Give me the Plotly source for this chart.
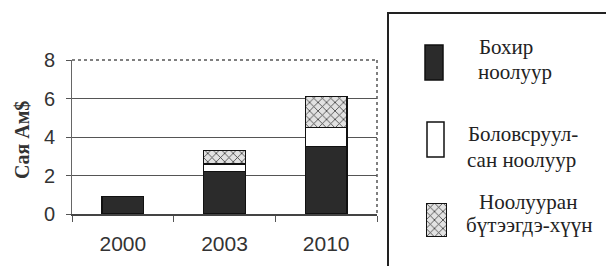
import plotly.graph_objects as go

# ---- data ----
categories = ["2000", "2003", "2010"]
raw_cashmere = [0.9, 2.2, 3.5]          # Бохир ноолуур
processed_cashmere = [0.0, 0.4, 1.0]    # Боловсруулсан ноолуур
cashmere_products = [0.0, 0.7, 1.6]     # Ноолууран бүтээгдэхүүн
series_names = ["Бохир ноолуур", "Боловсруулсан ноолуур", "Ноолууран бүтээгдэхүүн"]
legend_lines = [["Бохир", "ноолуур"], ["Боловсруул-", "сан ноолуур"], ["Ноолууран", "бүтээгдэ-хүүн"]]
y_ticks = [0, 2, 4, 6, 8]
y_title = "Сая Ам$"

W, H = 606, 266
PX0, PX1, PY0, PY1 = 72, 377, 60, 214  # plot area in pixels


def px(x):
    return x / W


def py(y):
    return 1 - y / H


DARK = "#2b2b2b"
LINE = "#111111"
pattern = dict(shape="x", fgcolor="#3a3a3a", bgcolor="#e2e2e2", size=6, solidity=0.25)

fig = go.Figure()
fig.add_bar(x=categories, y=raw_cashmere, name=series_names[0], width=0.41,
            marker=dict(color=DARK, line=dict(color=LINE, width=1.5)))
fig.add_bar(x=categories, y=processed_cashmere, name=series_names[1], width=0.41,
            marker=dict(color="white", line=dict(color=LINE, width=1.5)))
fig.add_bar(x=categories, y=cashmere_products, name=series_names[2], width=0.41,
            marker=dict(color="#e2e2e2", pattern=pattern, line=dict(color=LINE, width=1.5)))

# legend symbol for the patterned series (a small bar on its own axes)
fig.add_bar(x=[0], y=[1], xaxis="x2", yaxis="y2", width=1, showlegend=False,
            marker=dict(color="#e2e2e2", pattern=pattern, line=dict(color=LINE, width=1.5)),
            hoverinfo="skip")

tick_font = dict(family="Liberation Sans, Arial, sans-serif", size=20, color="#333")

fig.update_layout(
    width=W, height=H,
    margin=dict(l=0, r=0, t=0, b=0),
    paper_bgcolor="white", plot_bgcolor="white",
    barmode="stack", showlegend=False,
    template="none",
    xaxis=dict(domain=[px(PX0), px(PX1)], range=[-0.5, 2.5], type="category",
               showline=True, linecolor="#444", linewidth=2,
               ticks="outside", tickson="boundaries", ticklen=6, tickcolor="#555",
               ticklabelstandoff=10,
               tickfont=dict(family="Liberation Sans, Arial, sans-serif", size=21, color="#333"),
               showgrid=False, automargin=False, zeroline=False),
    yaxis=dict(domain=[py(PY1), py(PY0)], range=[0, 8], tickvals=y_ticks,
               showline=True, linecolor="#666", linewidth=1,
               ticks="outside", ticklen=5, tickcolor="#555", ticklabelstandoff=7,
               tickfont=tick_font, showgrid=True, gridcolor="#555", gridwidth=1,
               zeroline=False, automargin=False),
    xaxis2=dict(domain=[px(426), px(447)], range=[-0.5, 0.5], visible=False, anchor="y2",
                fixedrange=True),
    yaxis2=dict(domain=[py(237), py(203)], range=[0, 1], visible=False, anchor="x2",
                fixedrange=True),
)

shapes = [
    # top border (dotted) over the 8 gridline
    dict(type="line", xref="paper", yref="paper", x0=px(PX0), x1=px(PX1), y0=py(PY0), y1=py(PY0),
         line=dict(color="white", width=3)),
    dict(type="line", xref="paper", yref="paper", x0=px(PX0), x1=px(PX1), y0=py(PY0), y1=py(PY0),
         line=dict(color="#555", width=1.5, dash="dot")),
    # right border (dotted)
    dict(type="line", xref="paper", yref="paper", x0=px(PX1), x1=px(PX1), y0=py(PY0), y1=py(PY1),
         line=dict(color="#555", width=1.5, dash="dot")),
    # legend frame
    dict(type="rect", xref="paper", yref="paper", x0=px(388), x1=px(615), y0=py(13), y1=py(275),
         line=dict(color="#222", width=2), fillcolor="rgba(0,0,0,0)"),
    # legend symbols
    dict(type="rect", xref="paper", yref="paper", x0=px(425), x1=px(443), y0=py(80), y1=py(45),
         line=dict(color=LINE, width=1.5), fillcolor=DARK),
    dict(type="rect", xref="paper", yref="paper", x0=px(427), x1=px(444), y0=py(157), y1=py(122),
         line=dict(color=LINE, width=1.5), fillcolor="white"),
]
fig.update_layout(shapes=shapes)

serif = dict(family="Liberation Serif, Times New Roman, serif", size=21, color="#222")
legend_pos = [[(506, 47), (515, 72)], [(523, 134), (521, 160)], [(528, 202), (529, 225)]]
annotations = []
for lines, poss in zip(legend_lines, legend_pos):
    for text, (cx, cy) in zip(lines, poss):
        annotations.append(dict(text=text, xref="paper", yref="paper", x=px(cx), y=py(cy),
                                xanchor="center", yanchor="middle", showarrow=False, font=serif))
annotations.append(dict(text="<b>" + y_title + "</b>", xref="paper", yref="paper", x=px(22), y=py(140),
                        xanchor="center", yanchor="middle", textangle=-90, showarrow=False,
                        font=dict(family="Liberation Serif, Times New Roman, serif", size=20, color="#333")))
fig.update_layout(annotations=annotations)

fig.write_html("out.html", config={"displayModeBar": False},
               post_script="document.body.style.margin='0';")
